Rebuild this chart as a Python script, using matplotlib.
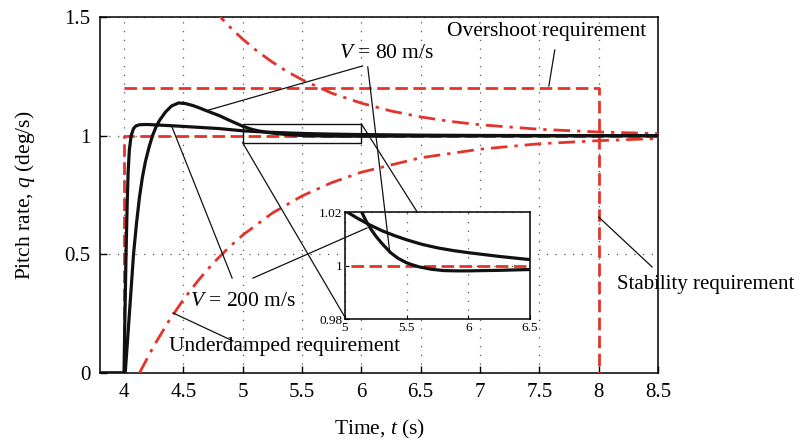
import matplotlib.pyplot as plt
from matplotlib.lines import Line2D
from matplotlib.patches import Rectangle

plt.rcParams['font.family'] = ['Liberation Serif', 'DejaVu Serif']
plt.rcParams['mathtext.fontset'] = 'custom'
plt.rcParams['mathtext.rm'] = 'Liberation Serif'
plt.rcParams['mathtext.it'] = 'Liberation Serif:italic'

RED = '#e3342b'

# pitch rate responses
t_v80 = [3.8, 4.0, 4.01, 4.03, 4.055, 4.08, 4.105, 4.13, 4.155, 4.18, 4.21, 4.24,
         4.27, 4.3, 4.35, 4.4, 4.46, 4.52, 4.58, 4.64, 4.7, 4.8, 4.9, 5.0, 5.05,
         5.09, 5.13, 5.17, 5.21, 5.25, 5.3, 5.37, 5.43, 5.5, 5.55, 5.6, 5.7, 5.8,
         5.9, 6.0, 6.25, 6.5, 7.0, 8.5]
q_v80 = [0.0, 0.0, 0.0, 0.14, 0.32, 0.5, 0.63, 0.74, 0.825, 0.89, 0.95, 1.0,
         1.037, 1.065, 1.1, 1.125, 1.138, 1.135, 1.127, 1.116, 1.104, 1.085, 1.062,
         1.04, 1.031, 1.025, 1.0205, 1.0167, 1.0136, 1.011, 1.0082, 1.0048, 1.0027,
         1.001, 1.0002, 0.9995, 0.9986, 0.9981, 0.998, 0.998, 0.9982, 0.9985,
         0.9992, 1.0]

t_v200 = [3.8, 4.0, 4.008, 4.017, 4.027, 4.035, 4.045, 4.06, 4.08, 4.1, 4.13, 4.17,
          4.2, 4.4, 4.6, 4.8, 5.0, 5.1, 5.2, 5.3, 5.4, 5.5, 5.625, 5.75, 5.875,
          6.0, 6.25, 6.5, 7.0, 7.5, 8.5]
q_v200 = [0.0, 0.0, 0.25, 0.5, 0.72, 0.85, 0.94, 1.0, 1.03, 1.041, 1.046, 1.047,
          1.047, 1.042, 1.036, 1.03, 1.0205, 1.0177, 1.0152, 1.013, 1.0112, 1.0096,
          1.0079, 1.0066, 1.0056, 1.0048, 1.0034, 1.0022, 1.001, 1.0005, 1.0]

# requirement envelopes
t_upper = [4.75, 4.875, 5.0, 5.125, 5.25, 5.375, 5.5, 5.75, 6.0, 6.25, 6.5, 6.75,
           7.0, 7.5, 8.0, 8.5]
q_upper = [1.534, 1.466, 1.407, 1.355, 1.310, 1.270, 1.236, 1.179, 1.137, 1.104,
           1.079, 1.060, 1.046, 1.027, 1.0155, 1.009]
t_lower = [4.13, 4.25, 4.375, 4.5, 4.625, 4.75, 4.875, 5.0, 5.25, 5.5, 5.75, 6.0,
           6.5, 7.0, 7.5, 8.0, 8.5]
q_lower = [0.0, 0.113, 0.217, 0.309, 0.390, 0.462, 0.525, 0.581, 0.674, 0.746,
           0.802, 0.846, 0.907, 0.943, 0.966, 0.979, 0.988]

t_overshoot = [4.0, 8.0, 8.0]
q_overshoot = [1.2, 1.2, 0.0]
t_settle = [4.0, 4.0, 8.5]
q_settle = [0.0, 1.0, 1.0]

xticks = [4, 4.5, 5, 5.5, 6, 6.5, 7, 7.5, 8, 8.5]
xlabels = ['4', '4.5', '5', '5.5', '6', '6.5', '7', '7.5', '8', '8.5']
yticks = [0, 0.5, 1, 1.5]
ylabels = ['0', '0.5', '1', '1.5']

fig = plt.figure(figsize=(8.01, 4.43), dpi=100)
ax = fig.add_axes([0.1252, 0.158, 0.6963, 0.8036])


def draw_all(a):
    a.plot(t_upper, q_upper, color=RED, lw=2, ls=(0, (6, 2.5, 1.2, 2.5)), zorder=3)
    a.plot(t_lower, q_lower, color=RED, lw=2, ls=(0, (6, 2.5, 1.2, 2.5)), zorder=3)
    a.plot(t_overshoot, q_overshoot, color=RED, lw=2, ls=(0, (4.5, 2)), zorder=3)
    a.plot(t_settle, q_settle, color=RED, lw=2, ls=(0, (4.5, 2)), zorder=3)
    a.plot(t_v80, q_v80, color='#111111', lw=2.3, zorder=4)
    a.plot(t_v200, q_v200, color='#111111', lw=2.3, zorder=4)


draw_all(ax)
ax.set_xlim(3.8, 8.5)
ax.set_ylim(0, 1.5)
ax.set_xticks(xticks)
ax.set_xticklabels(xlabels)
ax.set_yticks(yticks)
ax.set_yticklabels(ylabels)
ax.tick_params(direction='in', length=5, width=1, labelsize=15, pad=7)
ax.grid(True, color='#555555', ls=(0, (1, 6)), lw=0.9)
for s in ax.spines.values():
    s.set_linewidth(1.1)
ax.set_xlabel('Time, $t$ (s)', fontsize=15.5, labelpad=12)
ax.set_ylabel('Pitch rate, $q$ (deg/s)', fontsize=15.5, labelpad=20)

# zoom box
ax.add_patch(Rectangle((5.0, 0.97), 1.0, 0.08, fill=False, ec='#111111', lw=1, zorder=5))

# inset
ins = fig.add_axes([0.4307, 0.2799, 0.231, 0.2415])
draw_all(ins)
ins.set_xlim(5, 6.5)
ins.set_ylim(0.98, 1.02)
ins.set_xticks([5, 5.5, 6, 6.5])
ins.set_xticklabels(['5', '5.5', '6', '6.5'])
ins.set_yticks([0.98, 1, 1.02])
ins.set_yticklabels(['0.98', '1', '1.02'])
ins.tick_params(direction='in', length=3, labelsize=9.5, pad=2)
ins.grid(True, color='#555555', ls=(0, (1, 6)), lw=0.9)
for s in ins.spines.values():
    s.set_linewidth(1.1)

# annotation leader lines (main data coordinates, drawn over the inset)
leaders = [
    ([6.011, 4.713], [1.294, 1.108]),
    ([6.054, 6.24], [1.290, 0.506]),
    ([4.911, 4.404], [0.400, 1.037]),
    ([5.087, 6.047], [0.400, 0.611]),
    ([4.413, 4.918], [0.253, 0.135]),
    ([7.63, 7.58], [1.361, 1.209]),
    ([8.0, 8.45], [0.657, 0.447]),
    ([6.0, 6.47], [1.05, 0.679]),
    ([5.0, 5.87], [0.97, 0.228]),
]
for xs, ys in leaders:
    fig.add_artist(Line2D(xs, ys, transform=ax.transData, color='#111111', lw=0.9))

ax.text(7.563, 1.437, 'Overshoot requirement', fontsize=15.5, ha='center', va='center')
ax.text(6.215, 1.348, '$V$ = 80 m/s', fontsize=15.5, ha='center', va='center')
ax.text(5.0, 0.30, '$V$ = 200 m/s', fontsize=15.5, ha='center', va='center', zorder=6)
ax.text(5.356, 0.11, 'Underdamped requirement', fontsize=15.5, ha='center', va='center',
        zorder=6)
ax.text(8.9, 0.371, 'Stability requirement', fontsize=15, ha='center', va='center',
        clip_on=False)

fig.savefig('out.png', dpi=100)
